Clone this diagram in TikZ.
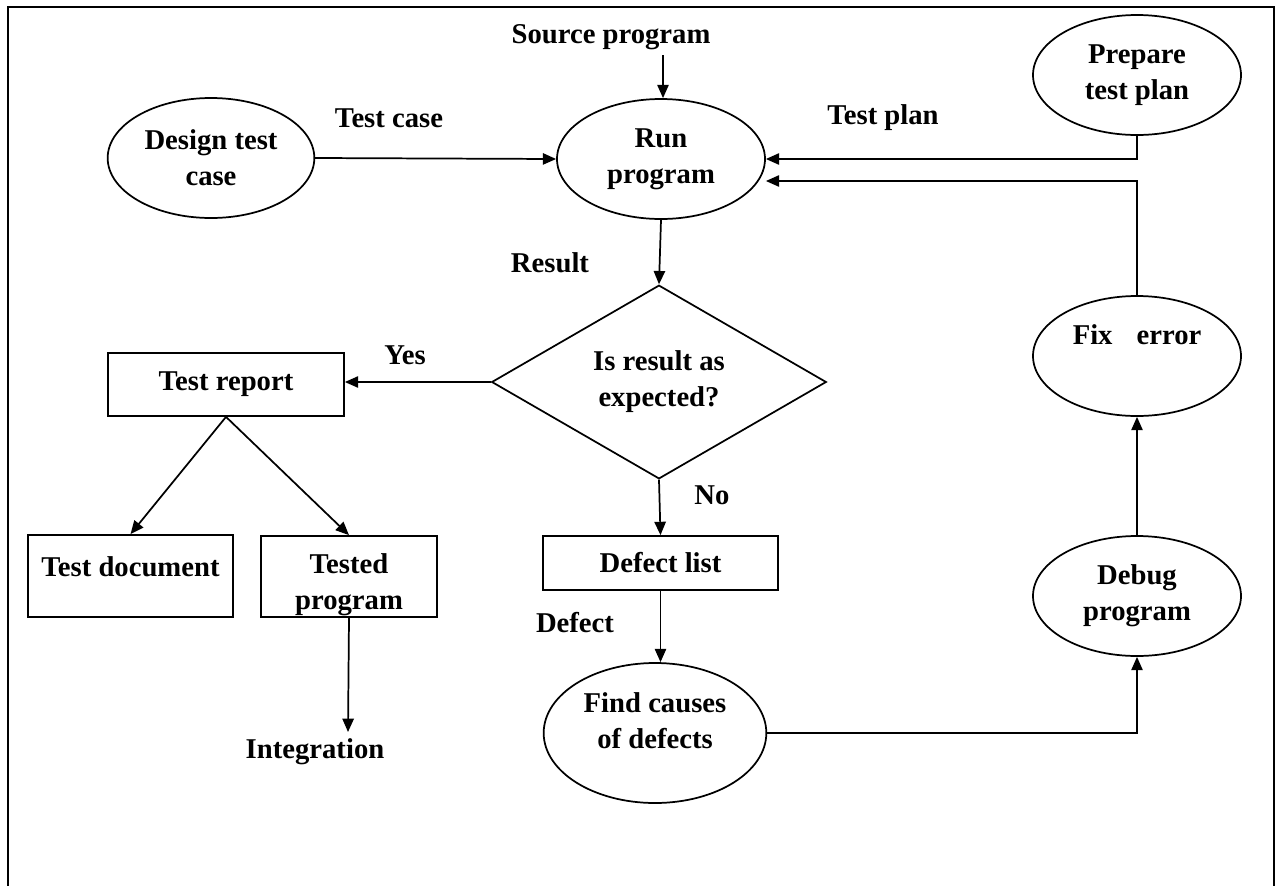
\documentclass[tikz,border=0pt]{standalone}
\usepackage{fontspec}
\setmainfont{Liberation Serif}
\usetikzlibrary{shapes.geometric,arrows.meta,calc}
\tikzset{
  txt/.style={font=\fontsize{21.5}{27}\selectfont\bfseries, align=center},
  base/.style={txt, draw, line width=1.3pt, inner sep=0pt},
  oval/.style={base, ellipse, minimum width=156pt, minimum height=90pt},
  box/.style={base, rectangle},
  dec/.style={base, diamond, minimum width=251pt, minimum height=139pt},
  lbl/.style={txt, inner sep=0pt},
  conn/.style={line width=1.3pt, -{Triangle[length=10pt,width=8.5pt]}},
}
\begin{document}
\begin{tikzpicture}[x=0.75pt,y=-0.75pt]
\useasboundingbox (0,0) rectangle (1279,886);
\clip (0,0) rectangle (1279,886);
% frame
\draw[line width=2.2pt] (8,900) -- (8,7) -- (1274,7) -- (1274,900);

% nodes
\node[oval, minimum width=155pt] (dtc) at (211,158) {Design test\\case};
\node[oval] (run) at (661,159) {Run\\program};
\node[oval] (prep) at (1137,75) {Prepare\\test plan};
\node[dec] (dia) at (659,382) {Is result as\\expected?};
\node[box, minimum width=177pt, minimum height=47.25pt] (trep) at (226,384.5) {Test report};
\node[box, minimum width=153.75pt, minimum height=61.5pt,
      label={[lbl, yshift=6.75pt]center:Test document}] (tdoc) at (130.5,576) {};
\node[box, minimum width=132pt, minimum height=60.75pt,
      label={[lbl, yshift=-6.4pt]center:Tested\\program}] (tprog) at (349,576.5) {};
\node[box, minimum width=176pt, minimum height=40.5pt] (defl) at (660.5,563) {Defect list};
\node[oval, minimum width=167pt, minimum height=105pt,
      label={[lbl, yshift=9pt]center:Find causes\\of defects}] (fc) at (655,733) {};
\node[oval] (dbg) at (1137,596) {Debug\\program};
\node[oval, label={[lbl, yshift=15.75pt]center:Fix\hspace{18pt}error}] (fix) at (1137,356) {};

% free labels
\node[lbl] (src) at (611,37) {Source program};
\node[lbl] (lcase) at (389,118) {Test case};
\node[lbl] (lplan) at (883,118) {Test plan};
\node[lbl] (lres) at (550,263) {Result};
\node[lbl] (lyes) at (405,355) {Yes};
\node[lbl] (lno) at (712,495) {No};
\node[lbl] (ldef) at (575,623) {Defect};
\node[lbl] (integ) at (315,752) {Integration};

% connectors
\coordinate (srcpt) at (663,55);
\draw[conn] (srcpt) -- (srcpt |- run.north);
\draw[conn] (dtc.east) -- (run.west);
\draw[conn] (prep.south) |- (run.east);
\coordinate (runin) at ($(run.east)+(0,22)$);
\draw[conn] (fix.north) |- (runin);
\draw[conn] (run.south) -- (dia.north);
\draw[conn] (dia.west) -- (dia.west -| trep.east);
\draw[conn] (trep.south) -- (tdoc.north);
\draw[conn] (trep.south) -- (tprog.north);
\coordinate (integin) at (348,732);
\draw[conn] (tprog.south) -- (integin);
\draw[conn] (dia.south) -- (defl.north);
\draw[conn] (defl.south) -- (defl.south |- fc.north);
\draw[conn] (fc.east) -| (dbg.south);
\draw[conn] (dbg.north) -- (fix.south);
\end{tikzpicture}
\end{document}
